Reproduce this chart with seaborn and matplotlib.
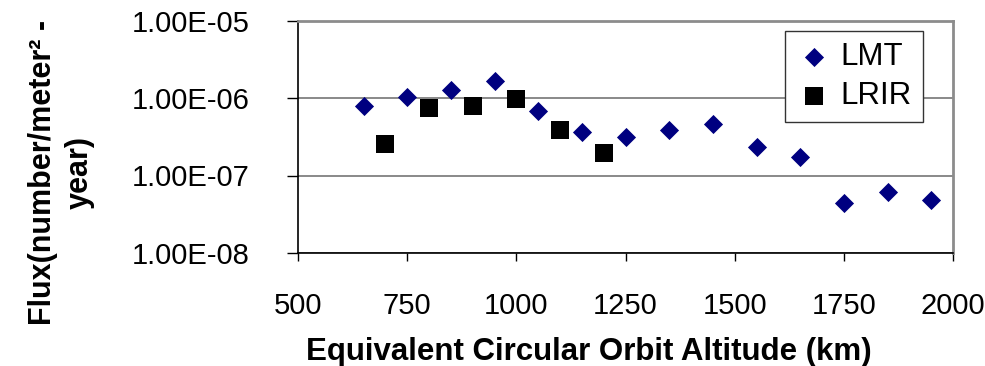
import numpy as np
import pandas as pd
import matplotlib
matplotlib.use("Agg")
import matplotlib.pyplot as plt
from matplotlib.ticker import FixedLocator, LogLocator, FuncFormatter, NullFormatter
import seaborn as sns

# ---- data ----
lmt_alt = [650, 750, 850, 950, 1050, 1150, 1250, 1350, 1450, 1550, 1650, 1750, 1850, 1950]
lmt_flux = [7.8e-7, 1.02e-6, 1.28e-6, 1.68e-6, 6.8e-7, 3.66e-7, 3.18e-7, 3.88e-7,
            4.64e-7, 2.33e-7, 1.73e-7, 4.4e-8, 6.2e-8, 4.8e-8]
lrir_alt = [700, 800, 900, 1000, 1100, 1200]
lrir_flux = [2.55e-7, 7.5e-7, 7.95e-7, 9.6e-7, 3.84e-7, 1.97e-7]

series_names = ["LMT", "LRIR"]
x_ticks = [500, 750, 1000, 1250, 1500, 1750, 2000]
y_ticks = [1e-8, 1e-7, 1e-6, 1e-5]
x_title = "Equivalent Circular Orbit Altitude (km)"
y_title = "Flux(number/meter\u00b2 -\nyear)"

df_lmt = pd.DataFrame({"alt": lmt_alt, "flux": lmt_flux, "series": series_names[0]})
df_lrir = pd.DataFrame({"alt": lrir_alt, "flux": lrir_flux, "series": series_names[1]})

sns.set_theme(style="white")
plt.rcParams["font.family"] = ["Liberation Sans", "DejaVu Sans"]

W, H = 985, 366
fig = plt.figure(figsize=(W / 100, H / 100), dpi=100)
ax_l, ax_r, ax_t, ax_b = 298, 953, 20.5, 253
ax = fig.add_axes([ax_l / W, 1 - ax_b / H, (ax_r - ax_l) / W, (ax_b - ax_t) / H])

sns.scatterplot(data=df_lmt, x="alt", y="flux", ax=ax, marker="D", s=95,
                color="#000080", edgecolor="#000080", linewidth=0, label=series_names[0], zorder=3)
sns.scatterplot(data=df_lrir, x="alt", y="flux", ax=ax, marker="s", s=165,
                color="black", edgecolor="black", linewidth=0, label=series_names[1], zorder=3)

ax.set_yscale("log")
ax.set_xlim(500, 2000)
ax.set_ylim(1e-8, 1e-5)
ax.xaxis.set_major_locator(FixedLocator(x_ticks))
ax.yaxis.set_major_locator(FixedLocator(y_ticks))
ax.yaxis.set_minor_locator(LogLocator(base=10, subs=np.arange(2, 10)))
ax.yaxis.set_minor_formatter(NullFormatter())
ax.yaxis.set_major_formatter(FuncFormatter(lambda v, p: "{:.2E}".format(v)))

ax.set_xlabel("")
ax.set_ylabel("")

ax.tick_params(axis="y", which="major", direction="out", length=8, width=1, color="black",
               labelsize=21, pad=27, left=True)
ax.tick_params(axis="y", which="minor", direction="out", length=5.5, width=0.8, color="black", left=True)
ax.tick_params(axis="x", which="major", direction="out", length=6, width=1, color="black",
               labelsize=21, pad=22, bottom=True)
for lab in ax.get_xticklabels() + ax.get_yticklabels():
    lab.set_color("black")

ax.yaxis.grid(True, which="major", color="#808080", linewidth=1.3)
ax.xaxis.grid(False)
ax.set_axisbelow(True)

for side in ["left", "bottom"]:
    ax.spines[side].set_color("black")
    ax.spines[side].set_linewidth(1.2)
for side in ["top", "right"]:
    ax.spines[side].set_color("#8c8c8c")
    ax.spines[side].set_linewidth(2)
    ax.spines[side].set_visible(True)

leg = ax.legend(loc="upper right", bbox_to_anchor=(923 / W, 1 - 31 / H),
                bbox_transform=fig.transFigure, borderaxespad=0, fontsize=22.5,
                frameon=True, fancybox=False, framealpha=1, edgecolor="#333333",
                handletextpad=0.25, labelspacing=0.3, borderpad=0.35, handlelength=1.2)
leg.get_frame().set_linewidth(1)
for t in leg.get_texts():
    t.set_color("black")

fig.text(589 / W, 1 - 360 / H, x_title, ha="center", va="baseline",
         fontsize=22.5, fontweight="bold", color="black")
fig.text(61 / W, 1 - 172 / H, y_title, ha="center", va="center", rotation=90,
         multialignment="center", fontsize=22, fontweight="bold", color="black",
         linespacing=1.3)

fig.savefig("out.png", dpi=100)
